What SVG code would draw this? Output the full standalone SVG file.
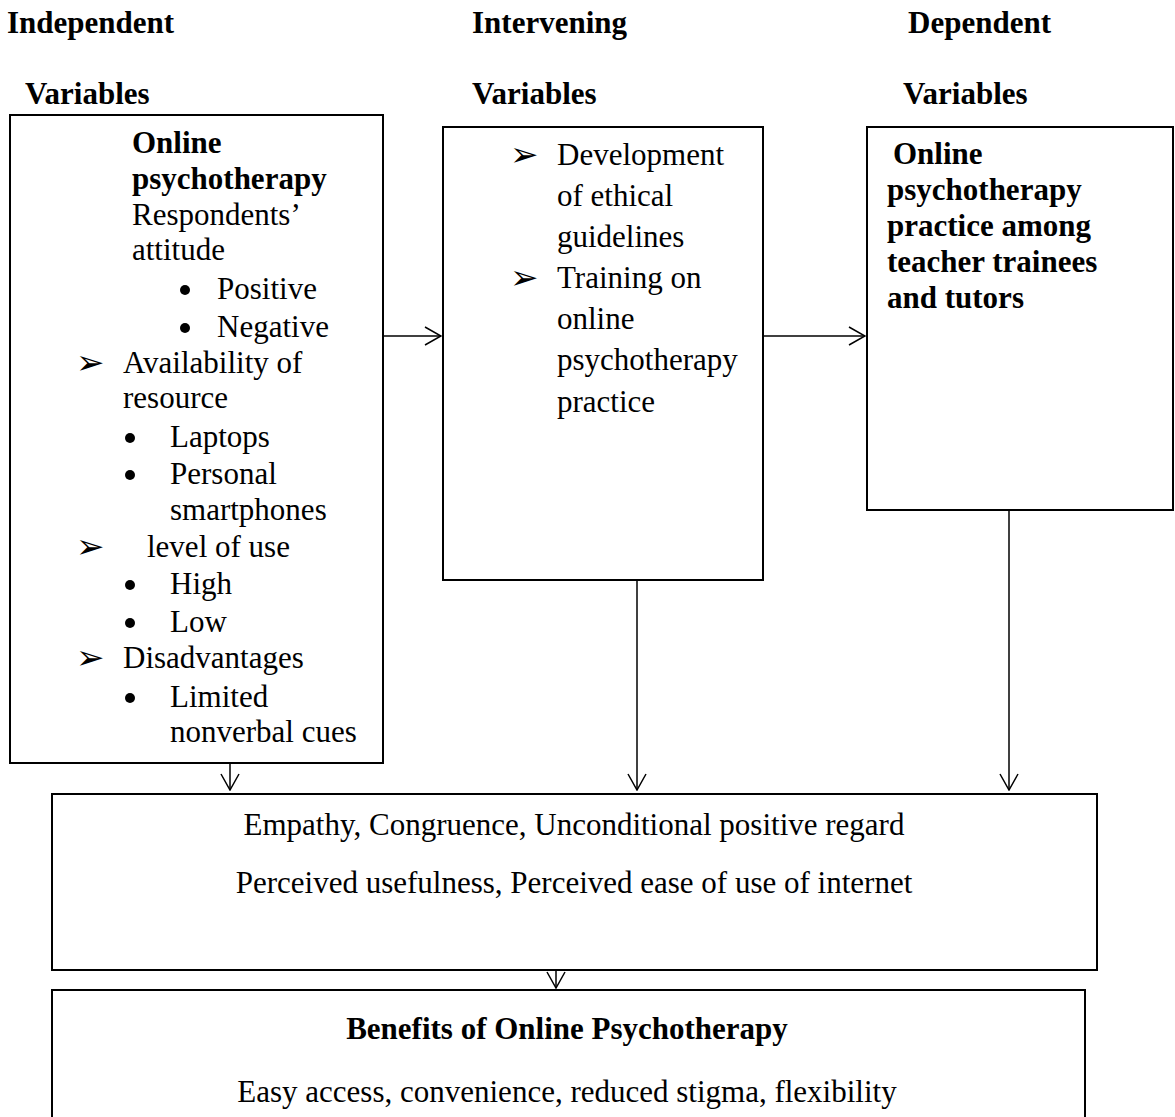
<svg xmlns="http://www.w3.org/2000/svg" width="1175" height="1117" viewBox="0 0 1175 1117">
<style>
  .t { font-family: "Liberation Serif", "Times New Roman", serif; font-size: 31px; fill: #000; }
  .b { font-weight: bold; }
  .mid { text-anchor: middle; }
  .box { fill: #fff; stroke: #000; stroke-width: 2; }
  .ar { font-family: "DejaVu Sans", sans-serif; font-size: 34px; fill: #000; }
  .dot { fill: #000; }
  .con { stroke: #000; stroke-width: 1.5; fill: none; }
</style>
<defs>
  <marker id="ah" viewBox="0 0 18 20" refX="17" refY="10" markerWidth="18" markerHeight="20" markerUnits="userSpaceOnUse" orient="auto">
    <path d="M1,1 L17,10 L1,19" fill="none" stroke="#000" stroke-width="1.5"/>
  </marker>
</defs>
<rect width="1175" height="1117" fill="#fff"/>

<g id="headers">
  <text class="t b" x="7" y="33">Independent</text>
  <text class="t b" x="472" y="33">Intervening</text>
  <text class="t b" x="908" y="33">Dependent</text>
  <text class="t b" x="25" y="104">Variables</text>
  <text class="t b" x="472" y="104">Variables</text>
  <text class="t b" x="903" y="104">Variables</text>
</g>

<g id="independent">
  <rect class="box" x="10" y="115" width="373" height="648"/>
  <text class="t b" x="132" y="153">Online</text>
  <text class="t b" x="132" y="189">psychotherapy</text>
  <text class="t" x="132" y="225">Respondents’</text>
  <text class="t" x="132" y="260">attitude</text>
  <circle class="dot" cx="185" cy="290" r="5"/>
  <text class="t" x="217" y="299">Positive</text>
  <circle class="dot" cx="185" cy="328" r="5"/>
  <text class="t" x="217" y="337">Negative</text>
  <text class="ar" x="76" y="374">➢</text>
  <text class="t" x="123" y="373">Availability of</text>
  <text class="t" x="123" y="408">resource</text>
  <circle class="dot" cx="130" cy="438" r="5"/>
  <text class="t" x="170" y="447">Laptops</text>
  <circle class="dot" cx="130" cy="475" r="5"/>
  <text class="t" x="170" y="484">Personal</text>
  <text class="t" x="170" y="520">smartphones</text>
  <text class="ar" x="76" y="558">➢</text>
  <text class="t" x="147" y="557">level of use</text>
  <circle class="dot" cx="130" cy="585" r="5"/>
  <text class="t" x="170" y="594">High</text>
  <circle class="dot" cx="130" cy="623" r="5"/>
  <text class="t" x="170" y="632">Low</text>
  <text class="ar" x="76" y="669">➢</text>
  <text class="t" x="123" y="668">Disadvantages</text>
  <circle class="dot" cx="130" cy="698" r="5"/>
  <text class="t" x="170" y="707">Limited</text>
  <text class="t" x="170" y="742">nonverbal cues</text>
</g>

<g id="intervening">
  <rect class="box" x="443" y="127" width="320" height="453"/>
  <text class="ar" x="510" y="166">➢</text>
  <text class="t" x="557" y="165">Development</text>
  <text class="t" x="557" y="206">of ethical</text>
  <text class="t" x="557" y="247">guidelines</text>
  <text class="ar" x="510" y="289">➢</text>
  <text class="t" x="557" y="288">Training on</text>
  <text class="t" x="557" y="329">online</text>
  <text class="t" x="557" y="370">psychotherapy</text>
  <text class="t" x="557" y="412">practice</text>
</g>

<g id="dependent">
  <rect class="box" x="867" y="127" width="306" height="383"/>
  <text class="t b" x="893" y="164">Online</text>
  <text class="t b" x="887" y="200">psychotherapy</text>
  <text class="t b" x="887" y="236">practice among</text>
  <text class="t b" x="887" y="272">teacher trainees</text>
  <text class="t b" x="887" y="308">and tutors</text>
</g>

<g id="factors">
  <rect class="box" x="52" y="794" width="1045" height="176"/>
  <text class="t mid" x="574" y="835">Empathy, Congruence, Unconditional positive regard</text>
  <text class="t mid" x="574" y="893">Perceived usefulness, Perceived ease of use of internet</text>
</g>

<g id="benefits">
  <rect class="box" x="52" y="990" width="1033" height="200"/>
  <text class="t b mid" x="567" y="1039">Benefits of Online Psychotherapy</text>
  <text class="t mid" x="567" y="1102">Easy access, convenience, reduced stigma, flexibility</text>
</g>

<g id="connectors">
  <line class="con" x1="383" y1="336" x2="441" y2="336" marker-end="url(#ah)"/>
  <line class="con" x1="763" y1="336" x2="865" y2="336" marker-end="url(#ah)"/>
  <line class="con" x1="230" y1="763" x2="230" y2="790" marker-end="url(#ah)"/>
  <line class="con" x1="637" y1="580" x2="637" y2="790" marker-end="url(#ah)"/>
  <line class="con" x1="1009" y1="510" x2="1009" y2="790" marker-end="url(#ah)"/>
  <line class="con" x1="556" y1="970" x2="556" y2="988" marker-end="url(#ah)"/>
</g>
</svg>
